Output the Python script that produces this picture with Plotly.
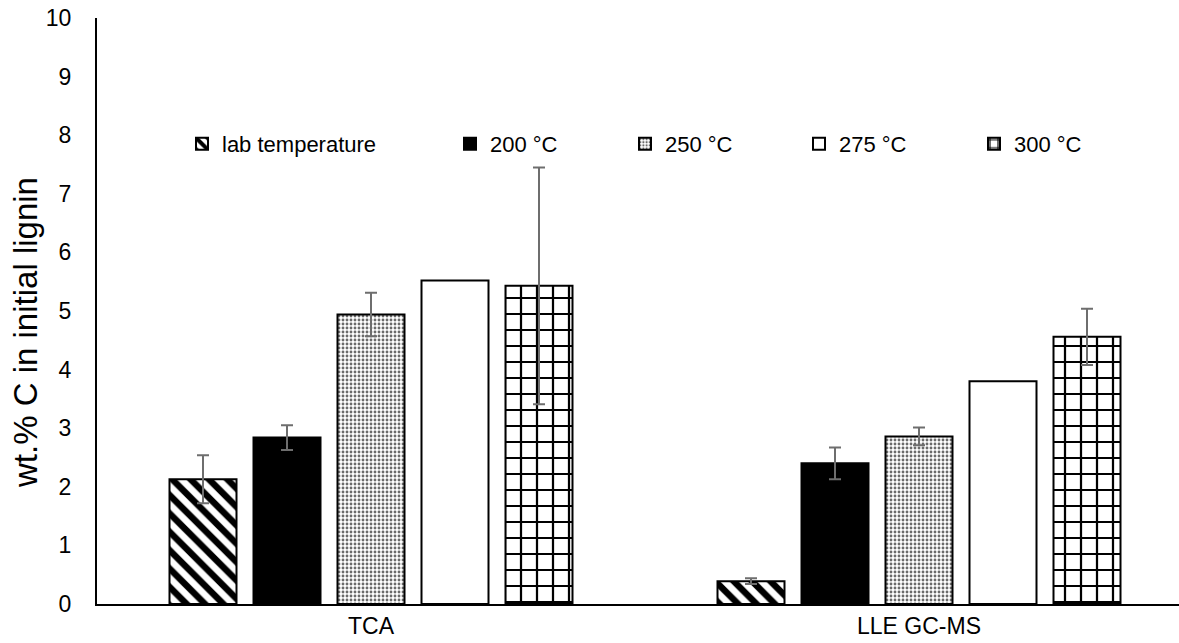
import plotly.graph_objects as go

categories = ["TCA", "LLE GC-MS"]
series_names = ["lab temperature", "200 °C", "250 °C", "275 °C", "300 °C"]
lab_vals = [2.13, 0.39]
lab_err = [0.41, 0.05]
t200_vals = [2.84, 2.40]
t200_err = [0.21, 0.27]
t250_vals = [4.94, 2.86]
t250_err = [0.37, 0.15]
t275_vals = [5.52, 3.80]
t300_vals = [5.43, 4.56]
t300_err = [2.02, 0.48]
y_ticks = [0, 1, 2, 3, 4, 5, 6, 7, 8, 9, 10]
y_title = "wt.% C in initial lignin"

W, H = 1179, 643
ML, MR, MT, MB = 97, 0, 18, 39
plot_w = W - ML - MR
plot_h = H - MT - MB
cat_px = 548.0

FONT = "Arial, Liberation Sans, sans-serif"
ERR_COLOR = "#6e6e6e"

def err(arr):
    return dict(type="data", array=arr, visible=True, color=ERR_COLOR, thickness=2, width=6)

styles = [
    dict(color="white", pattern=dict(shape="\\", size=13, solidity=0.5, fgcolor="black", bgcolor="white", fgopacity=1, fillmode="replace")),
    dict(color="black"),
    dict(color="white", pattern=dict(shape=".", size=4, solidity=0.4, fgcolor="#6a6a6a", bgcolor="white", fgopacity=1, fillmode="replace")),
    dict(color="white"),
    dict(color="white", pattern=dict(shape="+", size=16, solidity=0.26, fgcolor="black", bgcolor="white", fgopacity=1, fillmode="replace")),
]
vals = [lab_vals, t200_vals, t250_vals, t275_vals, t300_vals]
errs = [lab_err, t200_err, t250_err, None, t300_err]
legend_ids = ["legend", "legend2", "legend3", "legend4", "legend5"]

fig = go.Figure()
for name, v, e, st, lg in zip(series_names, vals, errs, styles, legend_ids):
    marker = dict(line=dict(color="black", width=2), **st)
    fig.add_trace(go.Bar(
        name=name, x=categories, y=v, marker=marker,
        error_y=err(e) if e is not None else dict(visible=False),
        legend=lg,
    ))

marker_left_px = [196, 464, 639, 813, 988]
legend_layout = {}
for lg, px in zip(legend_ids, marker_left_px):
    legend_layout[lg] = dict(
        x=(px - 14 - ML) / plot_w, xanchor="left",
        y=(604 - 144) / plot_h, yanchor="middle",
        orientation="h", bgcolor="rgba(0,0,0,0)", borderwidth=0,
        font=dict(family=FONT, size=22, color="black"),
        itemwidth=30,
    )

fig.update_layout(
    width=W, height=H,
    margin=dict(l=ML, r=MR, t=MT, b=MB, autoexpand=False),
    paper_bgcolor="white", plot_bgcolor="white",
    barmode="group",
    bargap=1 - 420 / cat_px,
    bargroupgap=17 / 84,
    font=dict(family=FONT, color="black"),
    showlegend=True,
    **legend_layout,
)
fig.add_annotation(
    text=y_title, textangle=-90, showarrow=False,
    xref="paper", yref="paper",
    x=(25 - ML) / plot_w, y=(604 - 333) / plot_h,
    xanchor="center", yanchor="middle",
    font=dict(family=FONT, size=33, color="black"),
)
fig.update_xaxes(
    type="category",
    range=[-0.5, -0.5 + plot_w / cat_px],
    showline=True, linecolor="black", linewidth=2,
    ticks="", showgrid=False, zeroline=False,
    tickfont=dict(family=FONT, size=23, color="black"),
)
fig.update_yaxes(
    range=[0, 10], tickvals=y_ticks,
    showline=True, linecolor="black", linewidth=2,
    ticks="", showgrid=False, zeroline=False,
    tickfont=dict(family=FONT, size=23, color="black"),
    ticklabelstandoff=19,
)

fig.write_html("out.html")
